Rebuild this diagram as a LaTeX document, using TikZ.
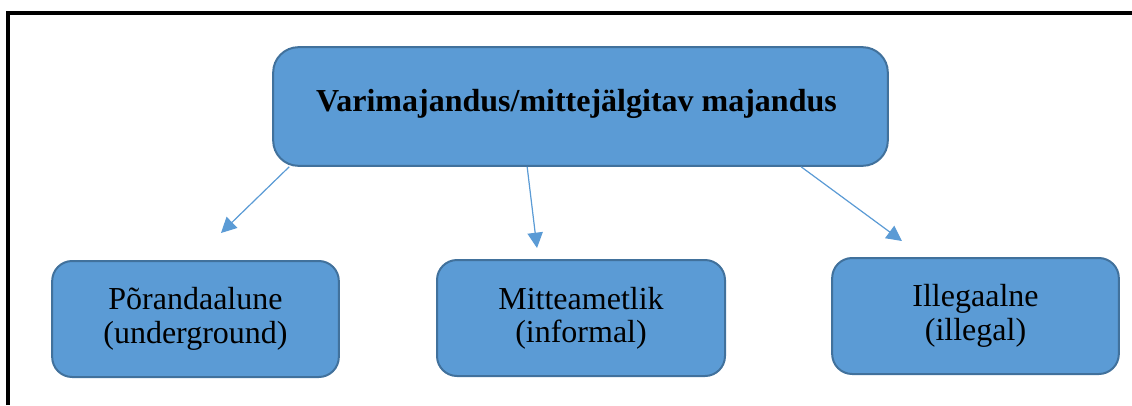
\documentclass[tikz,border=0pt]{standalone}
\usepackage{fontspec}
\setmainfont{Liberation Serif}
\usepackage{tikz}
\usetikzlibrary{positioning}
\usetikzlibrary{arrows.meta}

\definecolor{boxfill}{HTML}{5B9BD5}
\definecolor{boxline}{HTML}{41719C}

\tikzset{
  boxnode/.style={draw=boxline, line width=1.5pt, fill=boxfill, rounded corners=15pt,
    align=center, font=\fontsize{24}{25}\selectfont},
  arr/.style={-{Triangle[length=11.5pt, width=11.5pt]}, draw=boxfill, fill=boxfill, line width=0.9pt}
}

\begin{document}
\begin{tikzpicture}[x=0.75pt, y=-0.75pt]
  \useasboundingbox (0,0) rectangle (1132,405);

  % frame
  \draw[line width=2.4pt] (8,405) -- (8,13) -- (1132,13);

  \node[boxnode, minimum width=461pt, minimum height=89pt, rounded corners=19pt, text depth=9.5pt] at (580.5,106.5) (top)
    { \bfseries Varimajandus/mittejälgitav majandus };

  \node[boxnode, minimum width=215pt, minimum height=87pt] at (195.5,319) (under)
    { Põrandaalune\\(underground) };
  \node[boxnode, minimum width=216pt, minimum height=87pt] at (581,318) (informal)
    { Mitteametlik\\(informal) };
  \node[boxnode, minimum width=215pt, minimum height=87pt] at (975.5,316) (illegal)
    { Illegaalne\\(illegal) };

  \coordinate (tipA) at (221,233);
  \coordinate (tipB) at (537,248);
  \coordinate (tipC) at (902,241);

  \draw[arr] ([xshift=12.75pt]top.south west) -- (tipA);
  \draw[arr] ([xshift=191.25pt]top.south west) -- (tipB);
  \draw[arr] ([xshift=396.75pt]top.south west) -- (tipC);
\end{tikzpicture}
\end{document}
